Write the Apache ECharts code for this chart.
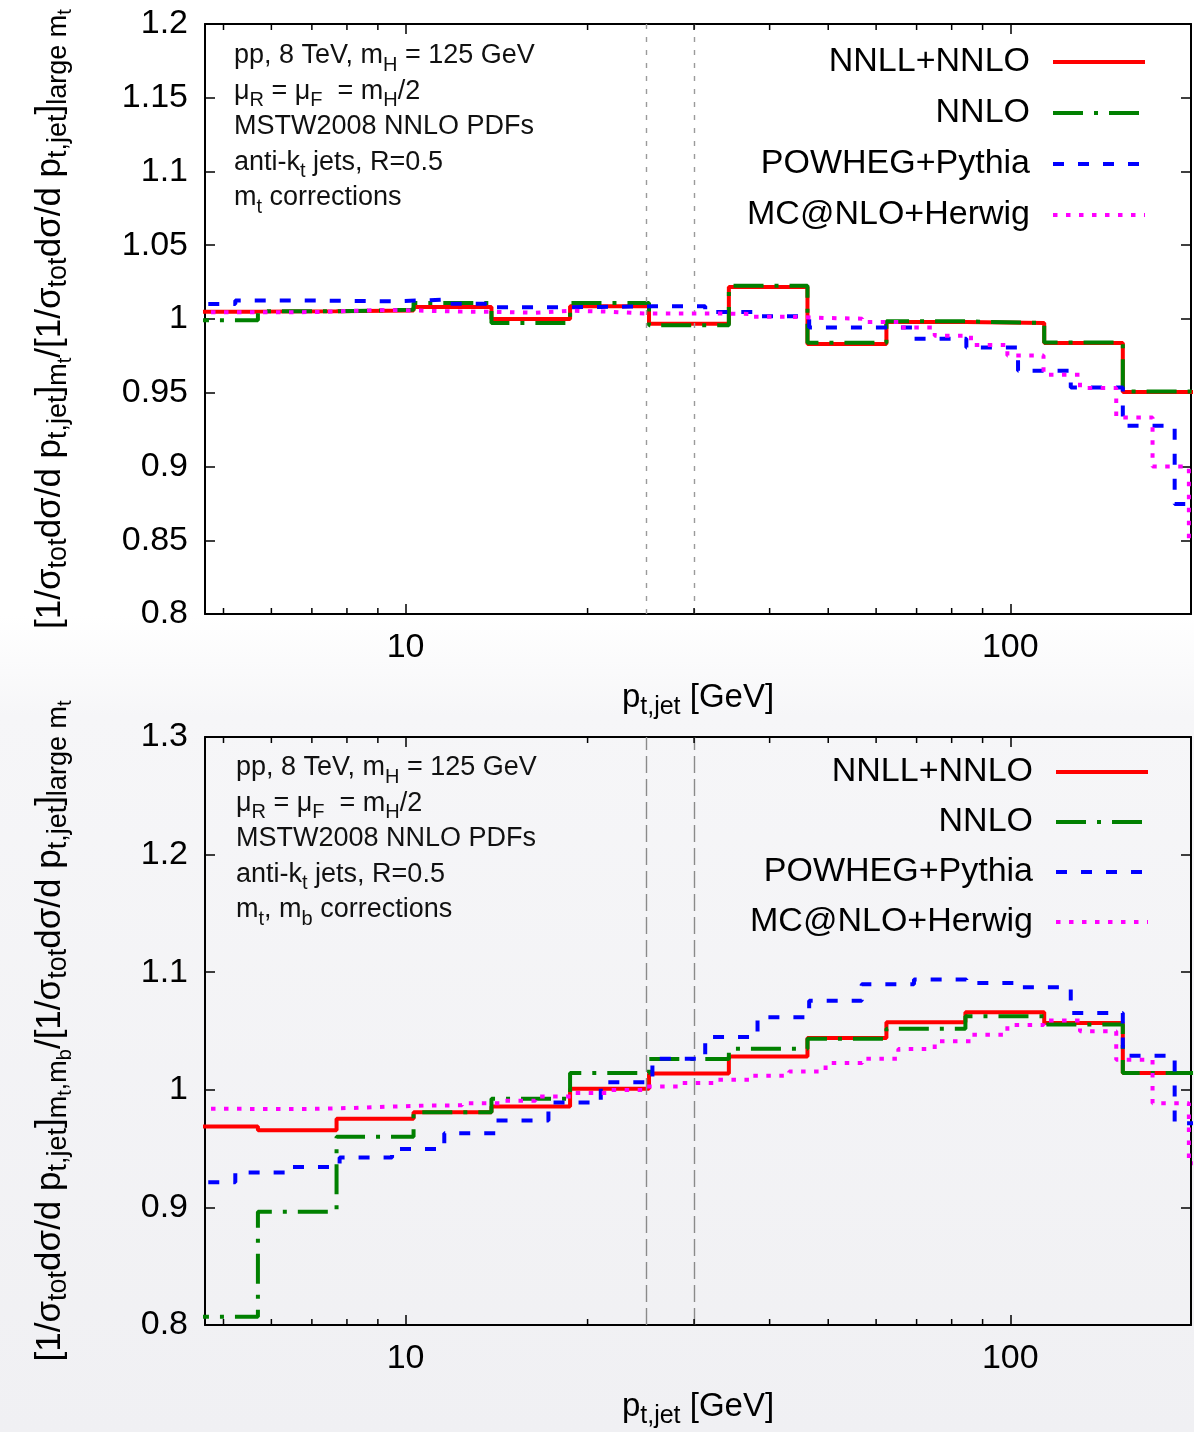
<!DOCTYPE html>
<html>
<head>
<meta charset="utf-8">
<script src="https://cdn.jsdelivr.net/npm/echarts@6/dist/echarts.min.js"></script>
<style>html,body{margin:0;padding:0;background:#fff}#c{width:1194px;height:1432px}</style>
</head>
<body>
<div id="c"></div>
<script>
// ---------- data (bin edges in GeV, values per bin) ----------
const edgesNNLL = [4.22, 5.70, 7.69, 10.31, 13.87, 18.71, 25.27, 34.25, 46.2, 62.4, 84.3, 113.8, 153.5, 207];
const edgesPOWHEG = [4.29, 5.23, 6.39, 7.78, 9.50, 11.59, 14.13, 17.23, 21.03, 25.6, 31.3, 38.2, 46.5, 56.8, 69.3, 84.6, 103, 125.9, 153.5, 187, 228];
const edgesMCNLO = [4.11, 4.72, 5.42, 6.22, 7.14, 8.20, 9.42, 10.8, 12.4, 14.3, 16.4, 18.8, 21.6, 24.8, 28.5, 32.7, 37.5, 43.1, 49.5, 56.9, 65.3, 75.0, 86.1, 98.9, 113.5, 130.4, 149.7, 171.9, 197.4, 226];

// top panel: m_t corrections
const topNNLLNNLO = [1.0050, 1.0053, 1.0057, 1.0081, 1.0000, 1.0086, 0.9968, 1.0217, 0.9830, 0.9980, 0.9973, 0.9837, 0.9505];
const topNNLO     = [0.9991, 1.0052, 1.0063, 1.0108, 0.9973, 1.0108, 0.9957, 1.0226, 0.9839, 0.9984, 0.9973, 0.9841, 0.9509];
const topPOWHEG   = [1.0102, 1.0126, 1.0124, 1.0120, 1.0131, 1.0104, 1.0079, 1.0082, 1.0086, 1.0086, 1.0047, 1.0018, 0.9943, 0.9943, 0.9866, 0.9807, 0.9649, 0.9536, 0.9276, 0.8745];
const topMCNLO    = [1.0046, 1.0046, 1.0046, 1.0047, 1.0056, 1.0061, 1.0056, 1.0050, 1.0048, 1.0043, 1.0056, 1.0050, 1.0038, 1.0038, 1.0038, 1.0034, 1.0015, 1.0007, 1.0002, 0.9980, 0.9943, 0.9887, 0.9824, 0.9753, 0.9622, 0.9532, 0.9333, 0.9000, 0.8500];

// bottom panel: m_t, m_b corrections
const botNNLLNNLO = [0.9688, 0.9657, 0.9753, 0.9810, 0.9858, 1.0008, 1.0139, 1.0284, 1.0440, 1.0574, 1.0659, 1.0568, 1.0142];
const botNNLO     = [0.8070, 0.8964, 0.9600, 0.9810, 0.9923, 1.0142, 1.0261, 1.0349, 1.0434, 1.0520, 1.0625, 1.0556, 1.0142];
const botPOWHEG   = [0.9214, 0.9296, 0.9344, 0.9424, 0.9497, 0.9631, 0.9739, 0.9892, 1.0064, 1.0264, 1.0449, 1.0616, 1.0758, 1.0897, 1.0937, 1.0909, 1.0871, 1.0653, 1.0290, 0.9716];
const botMCNLO    = [0.9838, 0.9838, 0.9836, 0.9838, 0.9846, 0.9857, 0.9866, 0.9868, 0.9886, 0.9906, 0.9943, 0.9972, 0.9998, 1.0028, 1.0057, 1.0085, 1.0120, 1.0156, 1.0227, 1.0264, 1.0346, 1.0412, 1.0468, 1.0551, 1.0590, 1.0497, 1.0256, 0.9886, 0.9375];

const seriesNames = ['NNLL+NNLO', 'NNLO', 'POWHEG+Pythia', 'MC@NLO+Herwig'];
const minorTickValues = [5, 6, 7, 8, 9, 20, 30, 40, 50, 60, 70, 80, 90];
const jetCuts = [25, 30];
const xRange = [4.66, 199];
const topYRange = [0.8, 1.2], topYStep = 0.05;
const botYRange = [0.8, 1.3], botYStep = 0.1;

// ---------- helpers ----------
const FONT = "'Liberation Sans', Arial, Helvetica, sans-serif";
function steps(edges, vals) {
  const pts = [];
  for (let i = 0; i < vals.length; i++) pts.push([edges[i], vals[i]]);
  pts.push([edges[vals.length], vals[vals.length - 1]]);
  return pts;
}
const styles = [
  {color: '#ff0000', type: 'solid'},
  {color: '#008000', type: [30, 11, 4, 11]},
  {color: '#0000ff', type: [11, 14]},
  {color: '#ff00ff', type: [4.5, 8.5]}
];
function stepSeries(idx, xi, yi, edges, vals, extra) {
  const s = {
    name: seriesNames[idx], type: 'line', step: 'end', xAxisIndex: xi, yAxisIndex: yi,
    data: steps(edges, vals), symbol: 'none', showSymbol: false, color: styles[idx].color,
    lineStyle: {color: styles[idx].color, width: 4, type: styles[idx].type, cap: 'butt'},
    emphasis: {disabled: true}, silent: true, clip: true, z: 3 + idx
  };
  return Object.assign(s, extra || {});
}
function cutLines(dash, color) {
  return {
    silent: true, symbol: 'none', label: {show: false},
    lineStyle: {color: color, width: 1.4, type: dash},
    emphasis: {disabled: true},
    data: jetCuts.map(v => ({xAxis: v}))
  };
}
function minorTicks(xi, yi, ymin, ymax) {
  return {
    type: 'custom', xAxisIndex: xi, yAxisIndex: yi, silent: true, clip: false, z: 10,
    data: minorTickValues.map(v => [v, ymin, ymax]),
    encode: {x: 0, y: 1},
    renderItem: function (params, api) {
      const b = api.coord([api.value(0), api.value(1)]);
      const t = api.coord([api.value(0), api.value(2)]);
      return {type: 'group', children: [
        {type: 'line', shape: {x1: b[0], y1: b[1], x2: b[0], y2: b[1] - 6}, style: {stroke: '#000', lineWidth: 1.5}},
        {type: 'line', shape: {x1: t[0], y1: t[1], x2: t[0], y2: t[1] + 6}, style: {stroke: '#000', lineWidth: 1.5}}
      ]};
    }
  };
}
const axisLineStyle = {show: true, onZero: false, lineStyle: {color: '#000', width: 2}};
const xNameRich = {
  n: {fontSize: 33, fontFamily: FONT, color: '#000', lineHeight: 40},
  s: {fontSize: 25, fontFamily: FONT, color: '#000', padding: [18, 0, 0, 0], lineHeight: 40}
};
const yNameRich = {
  n: {fontSize: 35, fontFamily: FONT, color: '#000', lineHeight: 42},
  s: {fontSize: 27, fontFamily: FONT, color: '#000', padding: [18, 0, 0, 0], lineHeight: 42},
  ss: {fontSize: 20, fontFamily: FONT, color: '#000', padding: [30, 0, 0, 0], lineHeight: 42}
};
function xAxes(gi) {
  return [{
    gridIndex: gi, type: 'log', logBase: 10, min: xRange[0], max: xRange[1], position: 'bottom',
    axisLine: axisLineStyle,
    axisTick: {show: true, inside: true, length: 10, lineStyle: {color: '#000', width: 1.5}},
    axisLabel: {show: true, fontSize: 34, fontFamily: FONT, color: '#000', margin: 17, showMinLabel: false, showMaxLabel: false},
    splitLine: {show: false}, minorTick: {show: false},
    name: '{n|p}{s|t,jet}{n| [GeV]}', nameLocation: 'middle', nameGap: gi === 0 ? 64 : 62,
    nameTextStyle: {rich: xNameRich}
  }, {
    gridIndex: gi, type: 'log', logBase: 10, min: xRange[0], max: xRange[1], position: 'top',
    axisLine: axisLineStyle,
    axisTick: {show: true, inside: true, length: 10, lineStyle: {color: '#000', width: 1.5}},
    axisLabel: {show: false}, splitLine: {show: false}
  }];
}
function yAxes(gi, range, step, name) {
  return [{
    gridIndex: gi, type: 'value', min: range[0], max: range[1], interval: step, position: 'left',
    axisLine: axisLineStyle,
    axisTick: {show: true, inside: true, length: 10, lineStyle: {color: '#000', width: 1.5}},
    axisLabel: {show: true, fontSize: 34, fontFamily: FONT, color: '#000', margin: 17},
    splitLine: {show: false},
    name: name, nameLocation: 'middle', nameRotate: 90, nameGap: 134,
    nameTextStyle: {rich: yNameRich}
  }, {
    gridIndex: gi, type: 'value', min: range[0], max: range[1], interval: step, position: 'right',
    axisLine: axisLineStyle,
    axisTick: {show: true, inside: true, length: 10, lineStyle: {color: '#000', width: 1.5}},
    axisLabel: {show: false}, splitLine: {show: false}
  }];
}
const yNameTop = '{n|[1/σ}{s|tot}{n|dσ/d p}{s|t,jet}{n|]}{s|m}{ss|t}{n|/[1/σ}{s|tot}{n|dσ/d p}{s|t,jet}{n|]}{s|large m}{ss|t}';
const yNameBot = '{n|[1/σ}{s|tot}{n|dσ/d p}{s|t,jet}{n|]}{s|m}{ss|t}{s|,m}{ss|b}{n|/[1/σ}{s|tot}{n|dσ/d p}{s|t,jet}{n|]}{s|large m}{ss|t}';

const infoRich = {
  n: {fontSize: 27, fontFamily: FONT, fill: '#111', color: '#111', lineHeight: 35.5},
  s: {fontSize: 20, fontFamily: FONT, fill: '#111', color: '#111', padding: [18, 0, 0, 0], lineHeight: 35.5}
};
const infoCommon = '{n|pp, 8 TeV, m}{s|H}{n| = 125 GeV}\n{n|μ}{s|R}{n| = μ}{s|F}{n|  = m}{s|H}{n|/2}\n{n|MSTW2008 NNLO PDFs}\n{n|anti-k}{s|t}{n| jets, R=0.5}\n';
const infoTop = infoCommon + '{n|m}{s|t}{n| corrections}';
const infoBot = infoCommon + '{n|m}{s|t}{n|, m}{s|b}{n| corrections}';

function legendCfg(top, right, gap) {
  return {
    data: seriesNames, orient: 'vertical', align: 'right', top: top, right: right, padding: 0,
    itemWidth: 92, itemHeight: 14, itemGap: gap, selectedMode: false,
    itemStyle: {opacity: 0, borderWidth: 0},
    lineStyle: {width: 4},
    textStyle: {fontSize: 34, fontFamily: FONT, color: '#000', lineHeight: 34, padding: [0, 18, 0, 0]}
  };
}

const chart = echarts.init(document.getElementById('c'), null, {renderer: 'canvas'});
chart.setOption({
  animation: false,
  backgroundColor: 'transparent',
  grid: [
    {left: 205, top: 24, width: 986, height: 590, outerBoundsMode: 'none', containLabel: false},
    {left: 205, top: 737, width: 986, height: 588, outerBoundsMode: 'none', containLabel: false}
  ],
  xAxis: xAxes(0).concat(xAxes(1)),
  yAxis: yAxes(0, topYRange, topYStep, yNameTop).concat(yAxes(1, botYRange, botYStep, yNameBot)),
  legend: [legendCfg(45, 47, 17), legendCfg(755, 44, 16)],
  graphic: [
    {type: 'rect', silent: true, z: -100, shape: {x: 0, y: 0, width: 1194, height: 1432},
      style: {fill: new echarts.graphic.LinearGradient(0, 0, 0, 1, [
        {offset: 0, color: '#ffffff'}, {offset: 0.43, color: '#ffffff'},
        {offset: 0.5, color: '#f6f6f8'}, {offset: 1, color: '#f0f0f3'}])}},
    {type: 'text', left: 234, top: 37, silent: true, style: {text: infoTop, rich: infoRich, fontSize: 27, fontFamily: FONT, fill: '#111'}},
    {type: 'text', left: 236, top: 749, silent: true, style: {text: infoBot, rich: infoRich, fontSize: 27, fontFamily: FONT, fill: '#111'}}
  ],
  series: [
    stepSeries(0, 0, 0, edgesNNLL, topNNLLNNLO, {markLine: cutLines([5, 8], '#9a9a9a')}),
    stepSeries(1, 0, 0, edgesNNLL, topNNLO),
    stepSeries(2, 0, 0, edgesPOWHEG, topPOWHEG),
    stepSeries(3, 0, 0, edgesMCNLO, topMCNLO),
    minorTicks(0, 0, topYRange[0], topYRange[1]),
    stepSeries(0, 2, 2, edgesNNLL, botNNLLNNLO, {markLine: cutLines([17, 6], '#8a8a8a')}),
    stepSeries(1, 2, 2, edgesNNLL, botNNLO),
    stepSeries(2, 2, 2, edgesPOWHEG, botPOWHEG),
    stepSeries(3, 2, 2, edgesMCNLO, botMCNLO),
    minorTicks(2, 2, botYRange[0], botYRange[1])
  ]
});
</script>
</body>
</html>
